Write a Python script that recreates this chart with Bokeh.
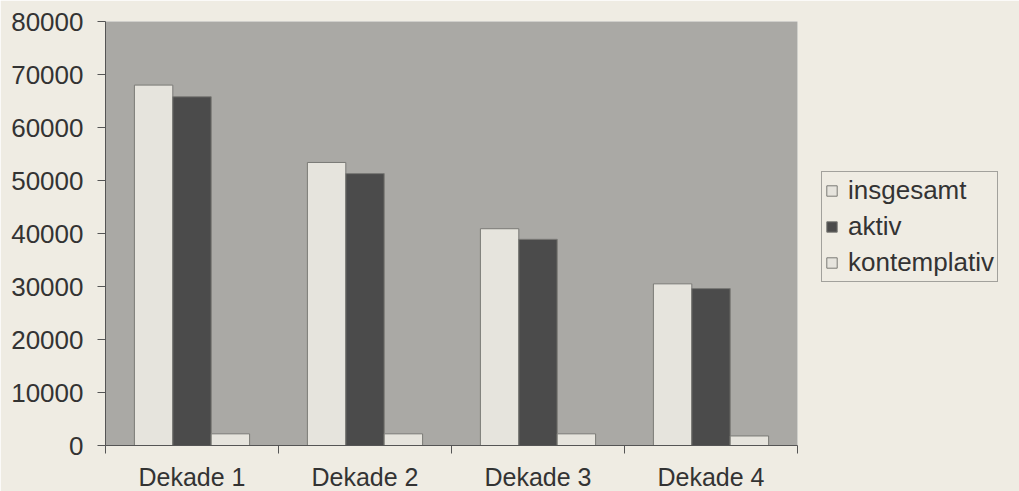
from bokeh.plotting import figure
from bokeh.models import Range1d, FixedTicker, Legend, LegendItem, NumeralTickFormatter, ColumnDataSource
from bokeh.embed import file_html
from bokeh.resources import INLINE

categories = ["Dekade 1", "Dekade 2", "Dekade 3", "Dekade 4"]
insgesamt = [68000, 53400, 40900, 30500]
aktiv = [65800, 51300, 38900, 29600]
kontemplativ = [2200, 2200, 2200, 1800]
series_names = ["insgesamt", "aktiv", "kontemplativ"]
y_ticks = [0, 10000, 20000, 30000, 40000, 50000, 60000, 70000, 80000]

FONT = "Liberation Sans"
TXT = "#333333"

p = figure(frame_width=692, frame_height=424, output_backend="svg", toolbar_location=None,
           x_range=Range1d(0, len(categories)), y_range=Range1d(0, 80000),
           min_border_left=105, min_border_right=19, min_border_top=21, min_border_bottom=46)
p.background_fill_color = "#aaa9a5"
p.border_fill_color = "#efece3"
p.outline_line_color = None
p.xgrid.visible = False
p.ygrid.visible = False

centers = [i + 0.5 for i in range(len(categories))]
bw = 0.222
series = [insgesamt, aktiv, kontemplativ]
offsets = [-0.222, 0.0, 0.222]
fills = ["#e6e4dd", "#4b4b4b", "#e6e4dd"]
renderers = []
for vals, off, col in zip(series, offsets, fills):
    src = ColumnDataSource(dict(x=[c + off for c in centers], top=vals))
    r = p.vbar(x="x", top="top", bottom=0, width=bw, source=src,
               fill_color=col, line_color="#7a7a76", line_width=1)
    renderers.append(r)

# axes
p.xaxis.ticker = FixedTicker(ticks=centers, minor_ticks=list(range(len(categories) + 1)))
p.xaxis.major_label_overrides = {c: name for c, name in zip(centers, categories)}
p.xaxis.major_tick_out = 0
p.xaxis.major_tick_in = 0
p.xaxis.minor_tick_out = 8
p.xaxis.minor_tick_in = 0
p.xaxis.minor_tick_line_color = "#555555"
p.xaxis.axis_line_color = "#555555"
p.xaxis.major_label_standoff = 9
p.xaxis.major_label_text_font = FONT
p.xaxis.major_label_text_font_size = "25px"
p.xaxis.major_label_text_color = TXT

p.yaxis.ticker = FixedTicker(ticks=y_ticks)
p.yaxis.formatter = NumeralTickFormatter(format="0")
p.yaxis.major_tick_out = 8
p.yaxis.major_tick_in = 0
p.yaxis.minor_tick_line_color = None
p.yaxis.major_tick_line_color = "#555555"
p.yaxis.axis_line_color = "#555555"
p.yaxis.major_label_standoff = 14
p.yaxis.major_label_text_font = FONT
p.yaxis.major_label_text_font_size = "26px"
p.yaxis.major_label_text_color = TXT

legend = Legend(items=[LegendItem(label=n, renderers=[r]) for n, r in zip(series_names, renderers)],
                location=(24, 163), orientation="vertical",
                label_text_font=FONT, label_text_font_size="26px", label_text_color=TXT,
                glyph_width=13, glyph_height=13, label_standoff=10, spacing=5,
                padding=3, margin=0, border_line_color="#555555", border_line_width=1,
                background_fill_color="#efece3", background_fill_alpha=1.0)
p.add_layout(legend, "right")

open("out.html", "w").write(file_html(p, INLINE))
